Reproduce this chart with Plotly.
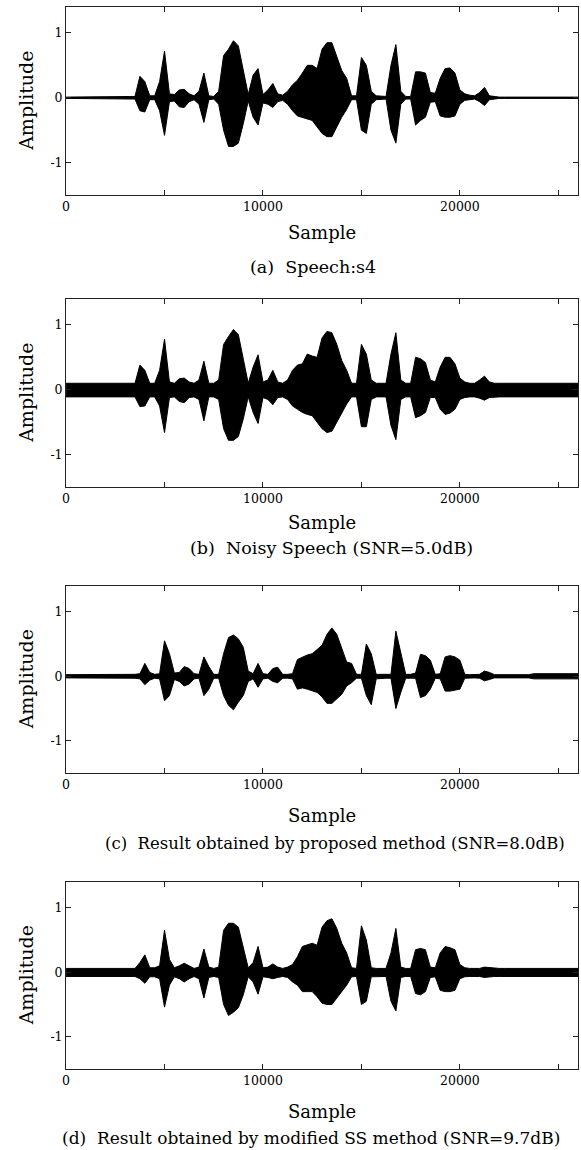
import plotly.graph_objects as go

# sample positions (every 250 samples, 0..26000)
SAMPLE = list(range(0, 26001, 250))

# ---- (a) clean speech envelope ----
A_UP = ([0.01] * 10 +
        [0.01, 0.01, 0.01, 0.01, 0.02, 0.33, 0.25, 0.03, 0.03, 0.25] +
        [0.72, 0.06, 0.05, 0.12, 0.13, 0.06, 0.03, 0.10, 0.38, 0.03] +
        [0.02, 0.10, 0.65, 0.75, 0.88, 0.80, 0.45, 0.05, 0.35, 0.45] +
        [0.05, 0.12, 0.22, 0.06, 0.04, 0.10, 0.20, 0.27, 0.38, 0.50] +
        [0.50, 0.45, 0.75, 0.85, 0.85, 0.65, 0.42, 0.30, 0.03, 0.03] +
        [0.62, 0.50, 0.10, 0.03, 0.02, 0.02, 0.50, 0.82, 0.10, 0.02] +
        [0.02, 0.40, 0.40, 0.38, 0.08, 0.07, 0.30, 0.45, 0.46, 0.38] +
        [0.12, 0.06, 0.04, 0.03, 0.08, 0.16, 0.03, 0.015, 0.01, 0.01] +
        [0.01] * 15)
A_LO = ([-0.01] * 10 +
        [-0.01, -0.01, -0.01, -0.01, -0.02, -0.20, -0.22, -0.03, -0.03, -0.20] +
        [-0.58, -0.06, -0.05, -0.14, -0.15, -0.06, -0.03, -0.10, -0.38, -0.03] +
        [-0.02, -0.10, -0.50, -0.75, -0.75, -0.70, -0.40, -0.05, -0.30, -0.42] +
        [-0.08, -0.10, -0.15, -0.06, -0.04, -0.10, -0.20, -0.28, -0.30, -0.33] +
        [-0.35, -0.45, -0.55, -0.60, -0.60, -0.45, -0.30, -0.18, -0.03, -0.03] +
        [-0.50, -0.55, -0.10, -0.03, -0.02, -0.02, -0.50, -0.70, -0.10, -0.02] +
        [-0.02, -0.42, -0.35, -0.30, -0.07, -0.06, -0.28, -0.30, -0.30, -0.28] +
        [-0.10, -0.04, -0.03, -0.02, -0.06, -0.12, -0.03, -0.015, -0.01, -0.01] +
        [-0.01] * 15)

# ---- (b) noisy speech envelope ----
B_UP = ([0.10] * 10 +
        [0.10, 0.10, 0.10, 0.10, 0.10, 0.38, 0.30, 0.10, 0.10, 0.30] +
        [0.78, 0.12, 0.10, 0.17, 0.18, 0.12, 0.10, 0.15, 0.44, 0.10] +
        [0.10, 0.15, 0.70, 0.82, 0.93, 0.85, 0.50, 0.10, 0.35, 0.54] +
        [0.12, 0.15, 0.30, 0.12, 0.10, 0.15, 0.30, 0.38, 0.40, 0.55] +
        [0.52, 0.50, 0.80, 0.90, 0.88, 0.70, 0.45, 0.30, 0.10, 0.10] +
        [0.70, 0.55, 0.15, 0.10, 0.10, 0.10, 0.55, 0.88, 0.15, 0.10] +
        [0.10, 0.50, 0.48, 0.42, 0.15, 0.12, 0.35, 0.50, 0.50, 0.40] +
        [0.18, 0.12, 0.10, 0.10, 0.15, 0.21, 0.12, 0.10, 0.10, 0.10] +
        [0.10] * 15)
B_LO = ([-0.11] * 10 +
        [-0.11, -0.11, -0.11, -0.11, -0.11, -0.26, -0.25, -0.11, -0.11, -0.25] +
        [-0.66, -0.12, -0.11, -0.18, -0.20, -0.12, -0.11, -0.15, -0.48, -0.11] +
        [-0.11, -0.15, -0.60, -0.78, -0.78, -0.72, -0.45, -0.11, -0.35, -0.52] +
        [-0.12, -0.15, -0.23, -0.12, -0.11, -0.15, -0.25, -0.30, -0.35, -0.38] +
        [-0.40, -0.50, -0.60, -0.66, -0.64, -0.50, -0.35, -0.22, -0.11, -0.11] +
        [-0.57, -0.57, -0.15, -0.11, -0.11, -0.11, -0.55, -0.77, -0.15, -0.11] +
        [-0.11, -0.43, -0.40, -0.35, -0.12, -0.12, -0.30, -0.38, -0.36, -0.30] +
        [-0.15, -0.12, -0.11, -0.11, -0.13, -0.16, -0.12, -0.11, -0.11, -0.11] +
        [-0.11] * 15)

# ---- (c) proposed method envelope ----
C_UP = ([0.025] * 10 +
        [0.025, 0.025, 0.025, 0.025, 0.03, 0.04, 0.20, 0.06, 0.03, 0.04] +
        [0.55, 0.35, 0.05, 0.06, 0.15, 0.12, 0.04, 0.03, 0.30, 0.15] +
        [0.03, 0.03, 0.35, 0.60, 0.64, 0.58, 0.45, 0.08, 0.04, 0.20] +
        [0.04, 0.03, 0.12, 0.14, 0.03, 0.03, 0.04, 0.26, 0.30, 0.33] +
        [0.35, 0.42, 0.48, 0.65, 0.75, 0.65, 0.45, 0.22, 0.20, 0.03] +
        [0.03, 0.50, 0.35, 0.03, 0.03, 0.03, 0.03, 0.70, 0.35, 0.03] +
        [0.03, 0.05, 0.34, 0.32, 0.25, 0.03, 0.04, 0.30, 0.32, 0.30] +
        [0.25, 0.03, 0.025, 0.025, 0.03, 0.08, 0.06, 0.025, 0.025, 0.025] +
        [0.025, 0.025, 0.025, 0.025, 0.025, 0.04, 0.04, 0.04, 0.04, 0.03] +
        [0.03, 0.03, 0.035, 0.04, 0.04])
C_LO = ([-0.025] * 10 +
        [-0.025, -0.025, -0.025, -0.025, -0.03, -0.04, -0.13, -0.06, -0.03, -0.04] +
        [-0.38, -0.30, -0.05, -0.08, -0.15, -0.12, -0.04, -0.03, -0.30, -0.20] +
        [-0.03, -0.03, -0.30, -0.45, -0.52, -0.40, -0.30, -0.08, -0.04, -0.17] +
        [-0.04, -0.03, -0.08, -0.10, -0.03, -0.03, -0.04, -0.20, -0.18, -0.20] +
        [-0.22, -0.25, -0.32, -0.42, -0.42, -0.35, -0.28, -0.15, -0.10, -0.03] +
        [-0.03, -0.30, -0.44, -0.04, -0.03, -0.03, -0.03, -0.50, -0.25, -0.03] +
        [-0.03, -0.03, -0.33, -0.30, -0.20, -0.03, -0.04, -0.23, -0.23, -0.22] +
        [-0.20, -0.03, -0.025, -0.025, -0.03, -0.07, -0.05, -0.025, -0.025, -0.025] +
        [-0.025, -0.025, -0.025, -0.025, -0.025, -0.04, -0.04, -0.04, -0.04, -0.03] +
        [-0.03, -0.03, -0.035, -0.04, -0.04])

# ---- (d) modified SS method envelope ----
D_UP = ([0.06] * 10 +
        [0.06, 0.06, 0.06, 0.06, 0.06, 0.15, 0.27, 0.07, 0.07, 0.10] +
        [0.65, 0.20, 0.07, 0.10, 0.14, 0.10, 0.06, 0.08, 0.36, 0.08] +
        [0.06, 0.08, 0.65, 0.76, 0.76, 0.70, 0.40, 0.07, 0.15, 0.40] +
        [0.07, 0.08, 0.13, 0.08, 0.06, 0.08, 0.12, 0.24, 0.40, 0.43] +
        [0.45, 0.42, 0.70, 0.80, 0.83, 0.68, 0.45, 0.30, 0.07, 0.06] +
        [0.72, 0.50, 0.07, 0.06, 0.06, 0.06, 0.30, 0.68, 0.08, 0.06] +
        [0.06, 0.35, 0.37, 0.35, 0.08, 0.07, 0.30, 0.40, 0.38, 0.35] +
        [0.12, 0.07, 0.06, 0.06, 0.06, 0.08, 0.07, 0.06, 0.06, 0.06] +
        [0.06] * 15)
D_LO = ([-0.065] * 10 +
        [-0.065, -0.065, -0.065, -0.065, -0.065, -0.10, -0.17, -0.07, -0.07, -0.10] +
        [-0.54, -0.20, -0.07, -0.10, -0.15, -0.10, -0.065, -0.10, -0.40, -0.08] +
        [-0.065, -0.08, -0.50, -0.67, -0.62, -0.55, -0.35, -0.07, -0.15, -0.34] +
        [-0.07, -0.08, -0.10, -0.08, -0.065, -0.08, -0.15, -0.20, -0.30, -0.30] +
        [-0.30, -0.38, -0.48, -0.50, -0.50, -0.40, -0.30, -0.20, -0.07, -0.065] +
        [-0.50, -0.45, -0.07, -0.065, -0.065, -0.065, -0.45, -0.60, -0.08, -0.065] +
        [-0.065, -0.33, -0.35, -0.30, -0.08, -0.07, -0.28, -0.30, -0.30, -0.28] +
        [-0.10, -0.07, -0.065, -0.065, -0.065, -0.08, -0.07, -0.065, -0.065, -0.065] +
        [-0.065] * 15)

CAPTIONS = ["(a)  Speech:s4",
            "(b)  Noisy Speech (SNR=5.0dB)",
            "(c)  Result obtained by proposed method (SNR=8.0dB)",
            "(d)  Result obtained by modified SS method (SNR=9.7dB)"]
X_TICKS = [0, 5000, 10000, 15000, 20000, 25000]
X_TICKTEXT = ["0", "", "10000", "", "20000", ""]
Y_TICKS = [-1, 0, 1]
Y_TICKTEXT = ["-1", "0", "1"]

W, H = 581, 1150
FONT = "DejaVu Serif"
# pixel layout: (top, bottom) of plot area, sample-label y, caption y, caption x, caption size
PANELS = [
    (A_UP, A_LO, 7, 195, 232, 267, 311, 17.5),
    (B_UP, B_LO, 299, 487, 523, 548, 330, 17.5),
    (C_UP, C_LO, 586, 773, 816, 843, 333, 16.5),
    (D_UP, D_LO, 882, 1069, 1111, 1138, 309, 17),
]
X_LEFT, X_RIGHT = 62.5, 578

fig = go.Figure()
annotations = []
for k, (up, lo, top, bot, sy, cy, cx, cs) in enumerate(PANELS):
    n = k + 1
    xa = "x" if n == 1 else f"x{n}"
    ya = "y" if n == 1 else f"y{n}"
    fig.add_trace(go.Scatter(x=SAMPLE, y=lo, xaxis=xa, yaxis=ya, mode="lines",
                             line=dict(color="black", width=1), showlegend=False,
                             hoverinfo="skip"))
    fig.add_trace(go.Scatter(x=SAMPLE, y=up, xaxis=xa, yaxis=ya, mode="lines",
                             line=dict(color="black", width=1), fill="tonexty",
                             fillcolor="black", showlegend=False, hoverinfo="skip"))
    axcommon = dict(showline=True, linecolor="#222", linewidth=1, mirror="allticks",
                    ticks="inside", ticklen=5, tickcolor="#222", showgrid=False,
                    zeroline=False, tickfont=dict(family=FONT, size=12.5, color="black"))
    xname = "xaxis" if n == 1 else f"xaxis{n}"
    yname = "yaxis" if n == 1 else f"yaxis{n}"
    fig.update_layout({
        xname: dict(domain=[X_LEFT / W, X_RIGHT / W], range=[0, 26000],
                    anchor=ya, tickvals=X_TICKS, ticktext=X_TICKTEXT, **axcommon),
        yname: dict(domain=[1 - bot / H, 1 - top / H], range=[-1.5, 1.4],
                    anchor=xa, tickvals=Y_TICKS, ticktext=Y_TICKTEXT, **axcommon),
    })
    annotations.append(dict(text="Sample", x=(X_LEFT + X_RIGHT) / 2 / W, y=1 - sy / H,
                            xref="paper", yref="paper", showarrow=False,
                            xanchor="center", yanchor="middle",
                            font=dict(family=FONT, size=18, color="black")))
    annotations.append(dict(text=CAPTIONS[k], x=cx / W, y=1 - cy / H,
                            xref="paper", yref="paper", showarrow=False,
                            xanchor="center", yanchor="middle",
                            font=dict(family=FONT, size=cs, color="black")))
    annotations.append(dict(text="Amplitude", x=22 / W, y=1 - (top + bot) / 2 / H,
                            xref="paper", yref="paper", showarrow=False, textangle=-90,
                            xanchor="center", yanchor="middle",
                            font=dict(family=FONT, size=19, color="black")))

fig.update_layout(width=W, height=H, margin=dict(l=0, r=0, t=0, b=0),
                  paper_bgcolor="white", plot_bgcolor="white",
                  annotations=annotations)
fig.write_html("out.html")
